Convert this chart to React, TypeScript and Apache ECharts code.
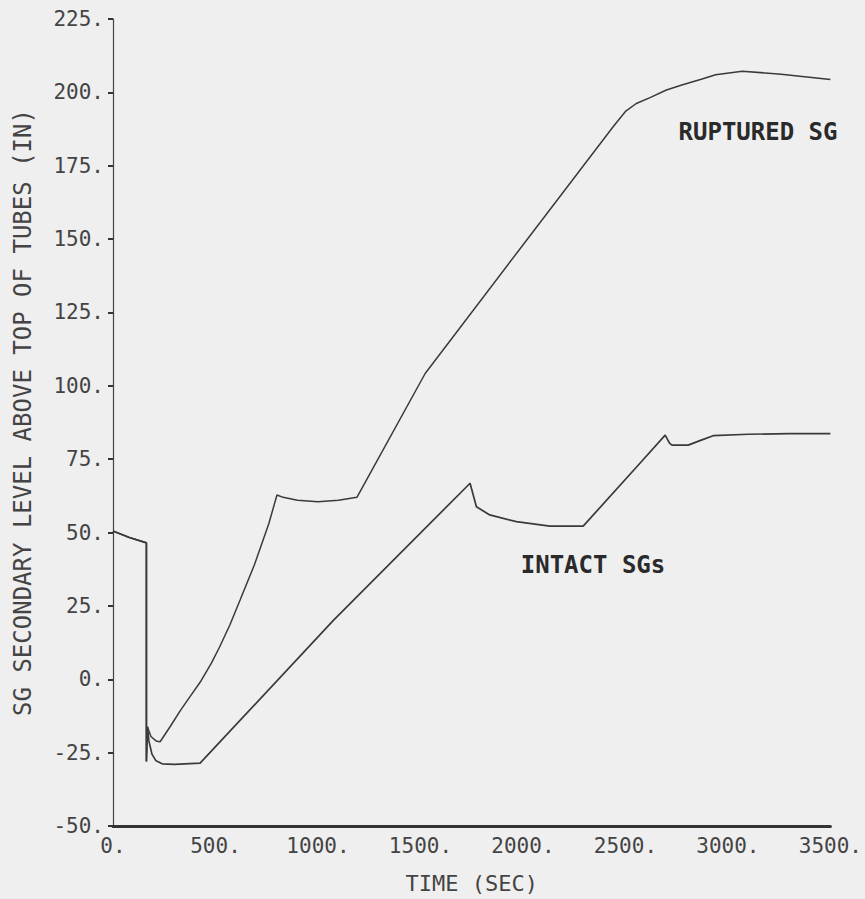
import React, { useEffect, useRef } from "react";
import * as echarts from "echarts";

// Time (s) and level (in)
const rupturedTime = [0, 80, 163, 163, 168, 185, 210, 230, 280, 330, 380, 430, 480, 520, 570, 620, 690, 760, 800, 830, 900, 1000, 1100, 1190, 1523, 2000, 2440, 2500, 2553, 2620, 2700, 2775, 2870, 2940, 3070, 3260, 3500];
const rupturedLevel = [50.5, 48.3, 46.5, -28, -16.2, -19.5, -21, -21.3, -16, -10.5, -5.5, -0.5, 5.5, 11, 18.5, 27, 39, 53, 62.8, 62, 61, 60.5, 61, 62, 104.2, 148, 188.3, 193.5, 196.2, 198.2, 200.8, 202.5, 204.5, 206, 207.2, 206.2, 204.4];

const intactTime = [0, 80, 163, 163, 168, 175, 190, 210, 240, 300, 425, 1074, 1742, 1773, 1838, 1968, 2131, 2294, 2572, 2694, 2715, 2727, 2806, 2870, 2928, 3100, 3300, 3500];
const intactLevel = [50.5, 48.3, 46.5, -28, -16.2, -21, -25.5, -27.8, -28.8, -29, -28.6, 20, 66.8, 58.8, 56, 53.7, 52.2, 52.2, 73.7, 83.2, 80.5, 79.8, 79.8, 81.5, 83, 83.5, 83.7, 83.7];

const xTicks = { min: 0, max: 3500, interval: 500 };
const yTicks = { min: -50, max: 225, interval: 25 };

const seriesLabels = ["RUPTURED SG", "INTACT SGs"];

const pairs = (t: number[], v: number[]) => t.map((x, i) => [x, v[i]]);

export default function App() {
  const ref = useRef<HTMLDivElement>(null);
  useEffect(() => {
    if (!ref.current) return;
    const chart = echarts.init(ref.current, undefined, { renderer: "svg" });
    const mono = "DejaVu Sans Mono";
    chart.setOption({
      animation: false,
      backgroundColor: "#efefef",
      grid: { left: 113, right: 34, top: 19, bottom: 73 },
      xAxis: {
        type: "value",
        min: xTicks.min,
        max: xTicks.max,
        interval: xTicks.interval,
        name: "TIME (SEC)",
        nameLocation: "middle",
        nameGap: 46,
        nameTextStyle: { fontFamily: mono, fontSize: 22, color: "#444" },
        axisLine: { onZero: false, lineStyle: { color: "#333", width: 3 } },
        axisTick: { show: false },
        splitLine: { show: false },
        axisLabel: {
          formatter: (v: number) => v + ".",
          fontFamily: mono,
          fontSize: 21,
          color: "#444",
          margin: 9,
        },
      },
      yAxis: {
        type: "value",
        min: yTicks.min,
        max: yTicks.max,
        interval: yTicks.interval,
        name: "SG SECONDARY LEVEL ABOVE TOP OF TUBES (IN)",
        nameLocation: "middle",
        nameGap: 78,
        nameRotate: 90,
        nameTextStyle: { fontFamily: mono, fontSize: 24, color: "#444", padding: [0, 0, 0, 20] },
        axisLine: { show: true, onZero: false, lineStyle: { color: "#444", width: 1.2 } },
        axisTick: { show: true, inside: false, length: 5, lineStyle: { color: "#333", width: 2 } },
        splitLine: { show: false },
        axisLabel: {
          formatter: (v: number) => v + ".",
          fontFamily: mono,
          fontSize: 21,
          color: "#444",
          margin: 9,
        },
      },
      series: [
        {
          name: seriesLabels[0],
          type: "line",
          data: pairs(rupturedTime, rupturedLevel),
          showSymbol: false,
          smooth: false,
          lineStyle: { color: "#3a3a3a", width: 1.5 },
        },
        {
          name: seriesLabels[1],
          type: "line",
          data: pairs(intactTime, intactLevel),
          showSymbol: false,
          smooth: false,
          lineStyle: { color: "#3a3a3a", width: 1.7 },
        },
      ],
      graphic: [
        {
          type: "text",
          x: 758,
          y: 132,
          style: {
            text: seriesLabels[0],
            fontFamily: mono,
            fontSize: 24,
            fontWeight: "bold",
            fill: "#2a2a2a",
            align: "center",
            verticalAlign: "middle",
          },
        },
        {
          type: "text",
          x: 593,
          y: 565,
          style: {
            text: seriesLabels[1],
            fontFamily: mono,
            fontSize: 24,
            fontWeight: "bold",
            fill: "#2a2a2a",
            align: "center",
            verticalAlign: "middle",
          },
        },
      ],
    });
    return () => chart.dispose();
  }, []);
  return (
    <div
      ref={ref}
      style={{ position: "fixed", left: 0, top: 0, width: 865, height: 899, background: "#efefef" }}
    />
  );
}
